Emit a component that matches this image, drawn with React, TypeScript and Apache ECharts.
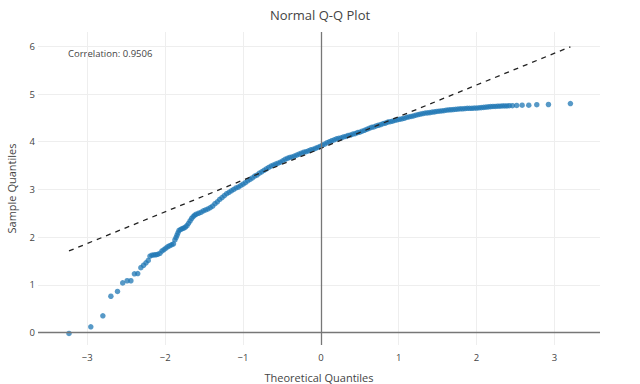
import React, { useEffect, useRef } from "react";
import * as echarts from "echarts";

// Theoretical quantiles (x) and sample quantiles (y)
const theoretical: number[] = [
  -3.235, -2.955, -2.8, -2.697, -2.612, -2.545, -2.488, -2.44, -2.395, -2.352,
  -2.312, -2.277, -2.246, -2.217, -2.195, -2.17, -2.145, -2.12, -2.095, -2.067,
  -2.04, -2.015, -1.99, -1.965, -1.94, -1.915, -1.893, -1.875, -1.86, -1.848,
  -1.835, -1.822, -1.8, -1.78, -1.76, -1.74, -1.72, -1.7, -1.68, -1.66,
  -1.64, -1.62, -1.6, -1.57, -1.54, -1.51, -1.48, -1.45, -1.42, -1.39,
  -1.36, -1.33, -1.3, -1.27, -1.24, -1.21, -1.18, -1.15, -1.12, -1.09,
  -1.06, -1.03, -1.0, -0.97, -0.94, -0.91, -0.88, -0.85, -0.82, -0.79,
  -0.76, -0.73, -0.7, -0.67, -0.64, -0.61, -0.58, -0.55, -0.52, -0.49,
  -0.46, -0.43, -0.4, -0.37, -0.34, -0.31, -0.28, -0.25, -0.22, -0.19,
  -0.16, -0.13, -0.1, -0.07, -0.04, -0.01, 0.02, 0.05, 0.08, 0.11,
  0.14, 0.17, 0.2, 0.23, 0.26, 0.29, 0.32, 0.35, 0.38, 0.41,
  0.44, 0.47, 0.5, 0.53, 0.56, 0.59, 0.62, 0.65, 0.68, 0.71,
  0.74, 0.77, 0.8, 0.83, 0.86, 0.89, 0.92, 0.95, 0.98, 1.01,
  1.04, 1.07, 1.1, 1.13, 1.16, 1.19, 1.22, 1.25, 1.28, 1.31,
  1.34, 1.37, 1.4, 1.43, 1.46, 1.49, 1.52, 1.55, 1.58, 1.61,
  1.64, 1.67, 1.7, 1.73, 1.76, 1.79, 1.82, 1.85, 1.88, 1.91,
  1.94, 1.97, 2.0, 2.03, 2.06, 2.09, 2.12, 2.15, 2.18, 2.21,
  2.24, 2.27, 2.3, 2.33, 2.36, 2.39, 2.42, 2.46, 2.515, 2.585,
  2.67, 2.773, 2.923, 3.205,
];
const sample: number[] = [
  -0.02, 0.12, 0.35, 0.76, 0.86, 1.04, 1.085, 1.085, 1.23, 1.235,
  1.36, 1.41, 1.46, 1.51, 1.6, 1.62, 1.625, 1.63, 1.64, 1.66,
  1.71, 1.74, 1.77, 1.8, 1.82, 1.84, 1.86, 1.94, 1.99, 2.04,
  2.09, 2.14, 2.16, 2.18, 2.19, 2.21, 2.24, 2.29, 2.34, 2.39,
  2.43, 2.46, 2.48, 2.5, 2.52, 2.55, 2.57, 2.59, 2.62, 2.65,
  2.7, 2.74, 2.79, 2.83, 2.87, 2.91, 2.94, 2.97, 3.0, 3.03,
  3.05, 3.08, 3.11, 3.14, 3.18, 3.21, 3.24, 3.28, 3.3, 3.34,
  3.37, 3.4, 3.43, 3.46, 3.49, 3.51, 3.53, 3.55, 3.57, 3.6,
  3.63, 3.65, 3.67, 3.68, 3.7, 3.72, 3.74, 3.76, 3.78, 3.79,
  3.81, 3.83, 3.84, 3.86, 3.88, 3.9, 3.93, 3.95, 3.98, 4.0,
  4.02, 4.04, 4.06, 4.07, 4.08, 4.1, 4.11, 4.13, 4.14, 4.16,
  4.17, 4.19, 4.2, 4.22, 4.24, 4.26, 4.28, 4.3, 4.31, 4.33,
  4.345, 4.36, 4.38, 4.39, 4.41, 4.42, 4.43, 4.445, 4.46, 4.47,
  4.48, 4.49, 4.51, 4.52, 4.53, 4.54, 4.555, 4.57, 4.58, 4.59,
  4.6, 4.605, 4.61, 4.62, 4.625, 4.635, 4.64, 4.645, 4.65, 4.66,
  4.665, 4.67, 4.675, 4.68, 4.685, 4.69, 4.69, 4.695, 4.7, 4.7,
  4.7, 4.705, 4.705, 4.71, 4.715, 4.72, 4.725, 4.73, 4.735, 4.74,
  4.74, 4.745, 4.745, 4.75, 4.75, 4.75, 4.755, 4.755, 4.76, 4.765,
  4.765, 4.775, 4.78, 4.8,
];

// Reference (fit) line endpoints
const fitX: number[] = [-3.235, 3.205];
const fitY: number[] = [1.71, 5.99];

const xTicks: number[] = [-3, -2, -1, 0, 1, 2, 3];
const yTicks: number[] = [0, 1, 2, 3, 4, 5, 6];

const titleText = "Normal Q-Q Plot";
const xTitle = "Theoretical Quantiles";
const yTitle = "Sample Quantiles";
const correlationText = "Correlation: 0.9506";

const FONT = "'Open Sans', 'Noto Sans', sans-serif";
const TEXT = "#444";

const fmt = (v: number) => (v < 0 ? "\u2212" + Math.abs(v) : String(v));

export default function App() {
  const ref = useRef<HTMLDivElement>(null);
  useEffect(() => {
    if (!ref.current) return;
    const chart = echarts.init(ref.current, undefined, { renderer: "svg" });
    const points = theoretical.map((x, i) => [x, sample[i]]);
    const fit = fitX.map((x, i) => [x, fitY[i]]);
    chart.setOption({
      animation: false,
      backgroundColor: "#fff",
      textStyle: { fontFamily: FONT },
      title: {
        text: titleText,
        left: "center",
        top: 3,
        textStyle: { fontFamily: FONT, fontSize: 13, fontWeight: "normal", color: TEXT },
      },
      grid: {
        left: 38,
        right: 40,
        top: 32,
        bottom: 39,
        containLabel: false,
        outerBoundsMode: "none",
      },
      xAxis: {
        type: "value",
        min: -3.633,
        max: 3.585,
        name: xTitle,
        nameLocation: "middle",
        nameGap: 27,
        nameTextStyle: { fontFamily: FONT, fontSize: 11, color: TEXT },
        axisLine: { show: false },
        axisTick: { show: false, customValues: xTicks },
        axisLabel: {
          customValues: xTicks,
          formatter: fmt,
          fontFamily: FONT,
          fontSize: 9.5,
          color: TEXT,
          margin: 7,
        },
        splitLine: { show: true, customValues: xTicks, lineStyle: { color: "#eee", width: 1 } },
      },
      yAxis: {
        type: "value",
        min: -0.262,
        max: 6.3,
        name: yTitle,
        nameLocation: "middle",
        nameGap: 21,
        nameTextStyle: { fontFamily: FONT, fontSize: 11, color: TEXT },
        axisLine: { show: false },
        axisTick: { show: false, customValues: yTicks },
        axisLabel: {
          customValues: yTicks,
          formatter: fmt,
          fontFamily: FONT,
          fontSize: 9.5,
          color: TEXT,
          margin: 3,
        },
        splitLine: { show: true, customValues: yTicks, lineStyle: { color: "#eee", width: 1 } },
      },
      graphic: [
        {
          type: "text",
          left: 68,
          top: 48,
          style: { text: correlationText, fontFamily: FONT, fontSize: 9.5, fill: TEXT },
        },
      ],
      series: [
        {
          name: "zero",
          type: "line",
          data: [[0, 0]],
          symbol: "none",
          z: 1,
          silent: true,
          lineStyle: { width: 0 },
          markLine: {
            silent: true,
            symbol: ["none", "none"],
            label: { show: false },
            lineStyle: { color: "#777", type: "solid", width: 1.3 },
            data: [{ xAxis: 0 }, { yAxis: 0 }],
          },
        },
        {
          name: "Data",
          type: "scatter",
          data: points,
          symbol: "circle",
          symbolSize: 5.5,
          z: 2,
          itemStyle: { color: "#1f77b4", opacity: 0.75 },
        },
        {
          name: "Fit",
          type: "line",
          data: fit,
          symbol: "none",
          z: 3,
          lineStyle: { color: "#222", width: 1.3, type: [5, 5] },
        },
      ],
    });
    return () => chart.dispose();
  }, []);
  return (
    <div
      ref={ref}
      style={{ position: "fixed", left: 0, top: 0, width: 640, height: 384 }}
    />
  );
}
